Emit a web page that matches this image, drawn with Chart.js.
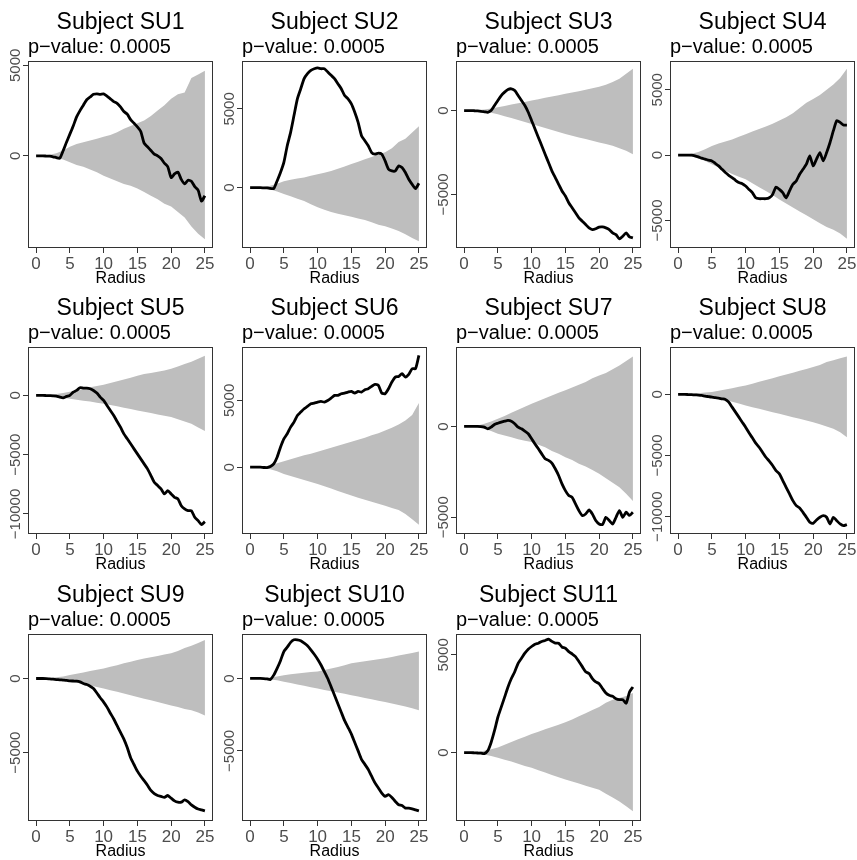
<!DOCTYPE html>
<html>
<head>
<meta charset="utf-8">
<script src="https://cdn.jsdelivr.net/npm/chart.js@4.4.1/dist/chart.umd.min.js"></script>
<style>
body { margin: 0; background: #fff; }
#wrap { position: relative; width: 857px; height: 860px; }
canvas { position: absolute; }
</style>
</head>
<body>
<div id="wrap"></div>
<script>
// radius grid of the observed curve and of the envelope
var radius = [0,0.5,1,1.5,2,2.5,3,3.5,4,4.5,5,5.5,6,6.5,7,7.5,8,8.5,9,9.5,10,10.5,11,11.5,12,12.5,13,13.5,14,14.5,15,15.5,16,16.5,17,17.5,18,18.5,19,19.5,20,20.5,21,21.5,22,22.5,23,23.5,24,24.5,25];
var radiusEnv = [0,1,2,3,4,5,6,7,8,9,10,11,12,13,14,15,16,17,18,19,20,21,22,23,24,25];
var xTicks = [0,5,10,15,20,25];

var subjects = ['SU1','SU2','SU3','SU4','SU5','SU6','SU7','SU8','SU9','SU10','SU11'];
var pValues = ['0.0005','0.0005','0.0005','0.0005','0.0005','0.0005','0.0005','0.0005','0.0005','0.0005','0.0005'];

var su1Obs = [0,0,0,-10,-20,-50,-100,-130,280,750,1200,1650,2150,2500,2800,3100,3250,3400,3420,3400,3420,3300,3150,3000,2900,2700,2450,2300,2000,1800,1600,1350,700,500,300,100,0,-150,-400,-600,-1200,-1000,-900,-1300,-1550,-1350,-1400,-1700,-1900,-2500,-2200];
var su1Hi = [0,20,60,150,300,500,650,750,850,950,1050,1150,1300,1500,1650,1800,1950,2200,2500,2800,3150,3400,3500,4300,4500,4700];
var su1Lo = [0,-20,-60,-120,-200,-350,-500,-600,-750,-900,-1100,-1250,-1400,-1550,-1650,-1800,-2000,-2200,-2400,-2650,-2800,-3100,-3400,-3900,-4300,-4600];

var su2Obs = [0,0,0,0,-10,-20,-50,-60,425,960,1600,2660,3510,4575,5640,6280,6920,7235,7450,7550,7600,7550,7550,7340,7130,6920,6600,6280,5850,5640,5320,4790,4150,3300,2980,2660,2230,2130,2190,2130,1700,1170,1060,1060,1380,1280,960,530,210,-60,280];
var su2Hi = [0,10,40,120,250,400,500,580,650,750,850,950,1050,1200,1350,1500,1650,1800,1950,2100,2250,2500,2900,3100,3500,3900];
var su2Lo = [0,-10,-40,-110,-250,-400,-550,-700,-850,-1050,-1250,-1400,-1550,-1650,-1750,-1850,-1950,-2050,-2200,-2350,-2450,-2600,-2750,-2950,-3200,-3400];

var su3Obs = [0,0,0,-10,-20,-40,-70,-100,0,300,600,900,1100,1260,1300,1200,900,600,300,-100,-600,-1100,-1600,-2100,-2600,-3100,-3600,-4000,-4400,-4800,-5100,-5500,-5800,-6100,-6400,-6600,-6800,-7000,-7100,-7050,-6950,-6940,-7000,-7100,-7300,-7400,-7660,-7500,-7300,-7540,-7600];
var su3Hi = [0,10,30,60,120,200,280,360,440,520,600,680,760,840,920,1000,1080,1160,1250,1330,1420,1550,1700,1900,2200,2500];
var su3Lo = [0,-10,-30,-70,-130,-220,-330,-440,-560,-680,-800,-920,-1040,-1160,-1280,-1400,-1500,-1600,-1700,-1800,-1900,-2000,-2100,-2250,-2400,-2600];

var su4Obs = [0,0,0,0,0,-50,-130,-230,-300,-380,-440,-620,-820,-1080,-1330,-1540,-1720,-1920,-2100,-2180,-2360,-2620,-2870,-3260,-3330,-3330,-3330,-3260,-3000,-2440,-2620,-2870,-3260,-2740,-2230,-1970,-1460,-1080,-690,-50,-820,-300,200,-440,200,970,1870,2640,2510,2300,2300];
var su4Hi = [0,30,100,250,450,700,900,1050,1200,1400,1600,1800,2000,2200,2400,2650,2900,3200,3600,4000,4300,4600,5000,5400,5900,6600];
var su4Lo = [0,-30,-100,-250,-450,-700,-950,-1200,-1450,-1650,-1850,-2150,-2450,-2750,-3050,-3400,-3700,-4000,-4300,-4600,-4900,-5200,-5500,-5700,-6000,-6400];

var su5Obs = [0,0,0,-10,-20,-30,-50,-140,-200,-85,0,280,420,650,620,620,560,420,200,-140,-420,-850,-1270,-1690,-2200,-2680,-3240,-3660,-4080,-4510,-4930,-5350,-5775,-6200,-6760,-7320,-7600,-7890,-8310,-8030,-8310,-8590,-8730,-9300,-9580,-9720,-9720,-10280,-10560,-10900,-10650];
var su5Hi = [0,20,60,120,200,300,420,550,680,800,900,1050,1200,1350,1500,1650,1800,1900,2000,2100,2250,2450,2650,2850,3100,3350];
var su5Lo = [0,-20,-60,-120,-200,-280,-360,-440,-520,-610,-700,-800,-920,-1040,-1150,-1270,-1380,-1490,-1600,-1720,-1830,-2000,-2200,-2400,-2700,-3000];

var su6Obs = [0,0,0,0,-20,-30,50,250,750,1500,2125,2500,3000,3375,3875,4125,4375,4550,4750,4800,4875,4925,4875,5000,5175,5375,5375,5500,5550,5625,5675,5550,5675,5625,5800,5875,6050,6200,6125,5550,5500,5875,6375,6750,6800,7000,6750,6950,7375,7375,8375];
var su6Hi = [0,20,60,150,300,450,600,750,900,1000,1150,1300,1450,1600,1750,1900,2050,2200,2400,2550,2750,2950,3200,3500,3900,4800];
var su6Lo = [0,-20,-60,-150,-300,-500,-650,-800,-950,-1100,-1250,-1420,-1600,-1780,-1950,-2120,-2280,-2430,-2580,-2730,-2880,-3050,-3200,-3500,-3900,-4300];

var su7Obs = [0,0,0,0,0,-10,-40,-130,-40,110,180,240,290,330,290,150,-40,-130,-260,-400,-680,-960,-1230,-1510,-1780,-1870,-2020,-2330,-2700,-3160,-3530,-3800,-3900,-4260,-4630,-4900,-4820,-4600,-4820,-5180,-5370,-5400,-5000,-5180,-5370,-5000,-4630,-5000,-4720,-4900,-4720];
var su7Hi = [0,20,60,150,280,420,580,750,920,1080,1250,1400,1550,1700,1850,2000,2150,2300,2450,2650,2800,2950,3150,3350,3600,3850];
var su7Lo = [0,-20,-60,-130,-250,-400,-500,-600,-700,-780,-860,-1000,-1150,-1350,-1500,-1690,-1850,-2050,-2200,-2400,-2600,-2850,-3100,-3350,-3700,-4100];

var su8Obs = [0,0,0,-10,-20,-40,-50,-80,-140,-180,-220,-270,-300,-360,-410,-630,-1040,-1450,-1860,-2270,-2680,-3140,-3550,-3990,-4320,-4730,-5140,-5460,-5820,-6230,-6500,-7050,-7600,-8140,-8690,-9100,-9290,-9650,-10050,-10460,-10550,-10270,-10050,-9920,-10050,-10600,-10050,-10330,-10600,-10740,-10650];
var su8Hi = [0,20,50,100,150,200,300,400,500,620,740,880,1030,1180,1330,1480,1630,1780,1930,2080,2240,2400,2650,2800,2950,3100];
var su8Lo = [0,-20,-50,-80,-120,-170,-300,-450,-600,-750,-900,-1040,-1180,-1320,-1450,-1580,-1720,-1860,-2000,-2140,-2270,-2450,-2630,-2810,-3100,-3500];

var su9Obs = [0,0,0,-10,-30,-50,-70,-90,-110,-130,-160,-170,-180,-230,-340,-410,-520,-680,-980,-1300,-1590,-1930,-2340,-2730,-3180,-3640,-4090,-4660,-5340,-5800,-6250,-6590,-6890,-7200,-7550,-7770,-7890,-7950,-8020,-7890,-8070,-8250,-8340,-8340,-8180,-8300,-8520,-8680,-8800,-8860,-8930];
var su9Hi = [0,10,40,80,130,230,320,410,500,590,680,790,900,1020,1130,1250,1340,1430,1520,1610,1700,1850,2050,2200,2400,2600];
var su9Lo = [0,-10,-40,-80,-130,-200,-290,-380,-480,-580,-680,-790,-900,-1020,-1130,-1250,-1360,-1470,-1580,-1700,-1820,-1930,-2050,-2150,-2300,-2500];

var su10Obs = [0,0,0,0,-10,-30,-70,230,700,1230,1860,2160,2490,2670,2670,2600,2440,2260,1980,1670,1330,930,470,0,-580,-1160,-1740,-2330,-2910,-3370,-3840,-4420,-5000,-5580,-5930,-6280,-6750,-7210,-7560,-7910,-8140,-8020,-8210,-8490,-8720,-8770,-8950,-8950,-9000,-9070,-9140];
var su10Hi = [0,10,30,70,130,220,290,350,400,440,480,580,680,800,920,1050,1120,1190,1260,1330,1400,1490,1580,1670,1760,1860];
var su10Lo = [0,-10,-30,-70,-130,-230,-320,-420,-510,-600,-700,-790,-880,-970,-1060,-1160,-1250,-1340,-1440,-1530,-1630,-1730,-1830,-1930,-2050,-2200];

var su11Obs = [0,0,0,-10,-20,-30,-50,90,520,1120,1810,2330,2840,3360,3790,4140,4570,4830,5090,5290,5430,5550,5600,5690,5740,5810,5690,5600,5600,5400,5340,5170,5050,4910,4660,4400,4140,4050,3790,3620,3530,3280,3050,2930,2880,2760,2710,2710,2530,3100,3360];
var su11Hi = [0,20,50,100,170,260,400,540,680,810,950,1070,1190,1310,1430,1550,1700,1860,2020,2180,2330,2550,2700,2800,2900,3050];
var su11Lo = [0,-20,-50,-100,-170,-260,-360,-460,-570,-680,-780,-900,-1020,-1140,-1260,-1380,-1480,-1580,-1690,-1800,-1900,-2100,-2300,-2500,-2750,-3000];

var yLimits = [[-5090,5240],[-3830,8040],[-8200,2960],[-7100,7200],[-11690,4085],[-5000,9000],[-5920,4375],[-11420,3880],[-9610,3000],[-9840,3070],[-3500,6070]];
var yTicks = [[0,5000],[0,5000],[-5000,0],[-5000,0,5000],[-10000,-5000,0],[0,5000],[-5000,0],[-10000,-5000,0],[-5000,0],[-5000,0],[0,5000]];

var panels = [
  [su1Obs,su1Hi,su1Lo],[su2Obs,su2Hi,su2Lo],[su3Obs,su3Hi,su3Lo],[su4Obs,su4Hi,su4Lo],
  [su5Obs,su5Hi,su5Lo],[su6Obs,su6Hi,su6Lo],[su7Obs,su7Hi,su7Lo],[su8Obs,su8Hi,su8Lo],
  [su9Obs,su9Hi,su9Lo],[su10Obs,su10Hi,su10Lo],[su11Obs,su11Hi,su11Lo]
];

var FONT = '"Liberation Sans", Arial, Helvetica, sans-serif';

function pts(xs, ys){
  return xs.map(function(x, i){ return {x: x, y: ys[i]}; });
}
function lab(v){
  return v < 0 ? '\u2212' + Math.abs(v) : String(v);
}

// title, p-value, box, tick labels and axis name, drawn the R way
function makeFrame(i){
  return {
    id: 'frame' + i,
    afterDraw: function(chart){
      var ctx = chart.ctx, a = chart.chartArea;
      var xs = chart.scales.x, ys = chart.scales.y;
      ctx.save();
      ctx.strokeStyle = '#333';
      ctx.lineWidth = 1;
      ctx.strokeRect(a.left + 0.5, a.top + 0.5, a.right - a.left - 1, a.bottom - a.top - 1);

      ctx.fillStyle = '#000';
      ctx.textBaseline = 'alphabetic';
      ctx.font = '23px ' + FONT;
      ctx.textAlign = 'center';
      ctx.fillText('Subject ' + subjects[i], (a.left + a.right) / 2, 29);
      ctx.font = '20px ' + FONT;
      ctx.textAlign = 'left';
      ctx.fillText('p\u2212value: ' + pValues[i], a.left, 53);

      ctx.fillStyle = '#4d4d4d';
      ctx.font = '17px ' + FONT;
      ctx.textAlign = 'center';
      xTicks.forEach(function(v){
        ctx.fillText(lab(v), xs.getPixelForValue(v), a.bottom + 21);
      });
      ctx.font = '15px ' + FONT;
      yTicks[i].forEach(function(v){
        ctx.save();
        ctx.translate(a.left - 8, ys.getPixelForValue(v));
        ctx.rotate(-Math.PI / 2);
        ctx.fillText(lab(v), 0, 0);
        ctx.restore();
      });

      ctx.fillStyle = '#000';
      ctx.font = '16px ' + FONT;
      ctx.fillText('Radius', (a.left + a.right) / 2, a.bottom + 35);
      ctx.restore();
    }
  };
}

var wrap = document.getElementById('wrap');
var rowTop = [0, 286, 573];
var colLeft = [0, 214, 428, 642];

panels.forEach(function(p, i){
  var cv = document.createElement('canvas');
  cv.width = 214; cv.height = 287;
  cv.style.left = colLeft[i % 4] + 'px';
  cv.style.top = rowTop[Math.floor(i / 4)] + 'px';
  wrap.appendChild(cv);

  new Chart(cv.getContext('2d'), {
    type: 'line',
    data: {
      datasets: [
        { data: pts(radius, p[0]), borderColor: '#000', borderWidth: 2.8, pointRadius: 0, fill: false, tension: 0.2 },
        { data: pts(radiusEnv, p[1]), borderWidth: 0, borderColor: 'rgba(0,0,0,0)', pointRadius: 0, fill: '+1', backgroundColor: '#bebebe', tension: 0 },
        { data: pts(radiusEnv, p[2]), borderWidth: 0, borderColor: 'rgba(0,0,0,0)', pointRadius: 0, fill: false, tension: 0 }
      ]
    },
    options: {
      responsive: false,
      animation: false,
      events: [],
      layout: { padding: { left: 0, right: 1, top: 61, bottom: 0 } },
      plugins: { legend: { display: false }, tooltip: { enabled: false }, title: { display: false } },
      scales: {
        x: {
          type: 'linear', min: -1.2, max: 26.2,
          afterBuildTicks: function(s){ s.ticks = xTicks.map(function(v){ return {value: v}; }); },
          afterFit: function(s){ s.height = 39; },
          ticks: { display: false },
          grid: { drawOnChartArea: false, drawTicks: true, tickLength: 5, color: '#333' },
          border: { display: false }
        },
        y: {
          type: 'linear', min: yLimits[i][0], max: yLimits[i][1],
          afterBuildTicks: function(s){ s.ticks = yTicks[i].map(function(v){ return {value: v}; }); },
          afterFit: function(s){ s.width = 28; },
          ticks: { display: false },
          grid: { drawOnChartArea: false, drawTicks: true, tickLength: 5, color: '#333' },
          border: { display: false }
        }
      }
    },
    plugins: [makeFrame(i)]
  });
});
</script>
</body>
</html>
